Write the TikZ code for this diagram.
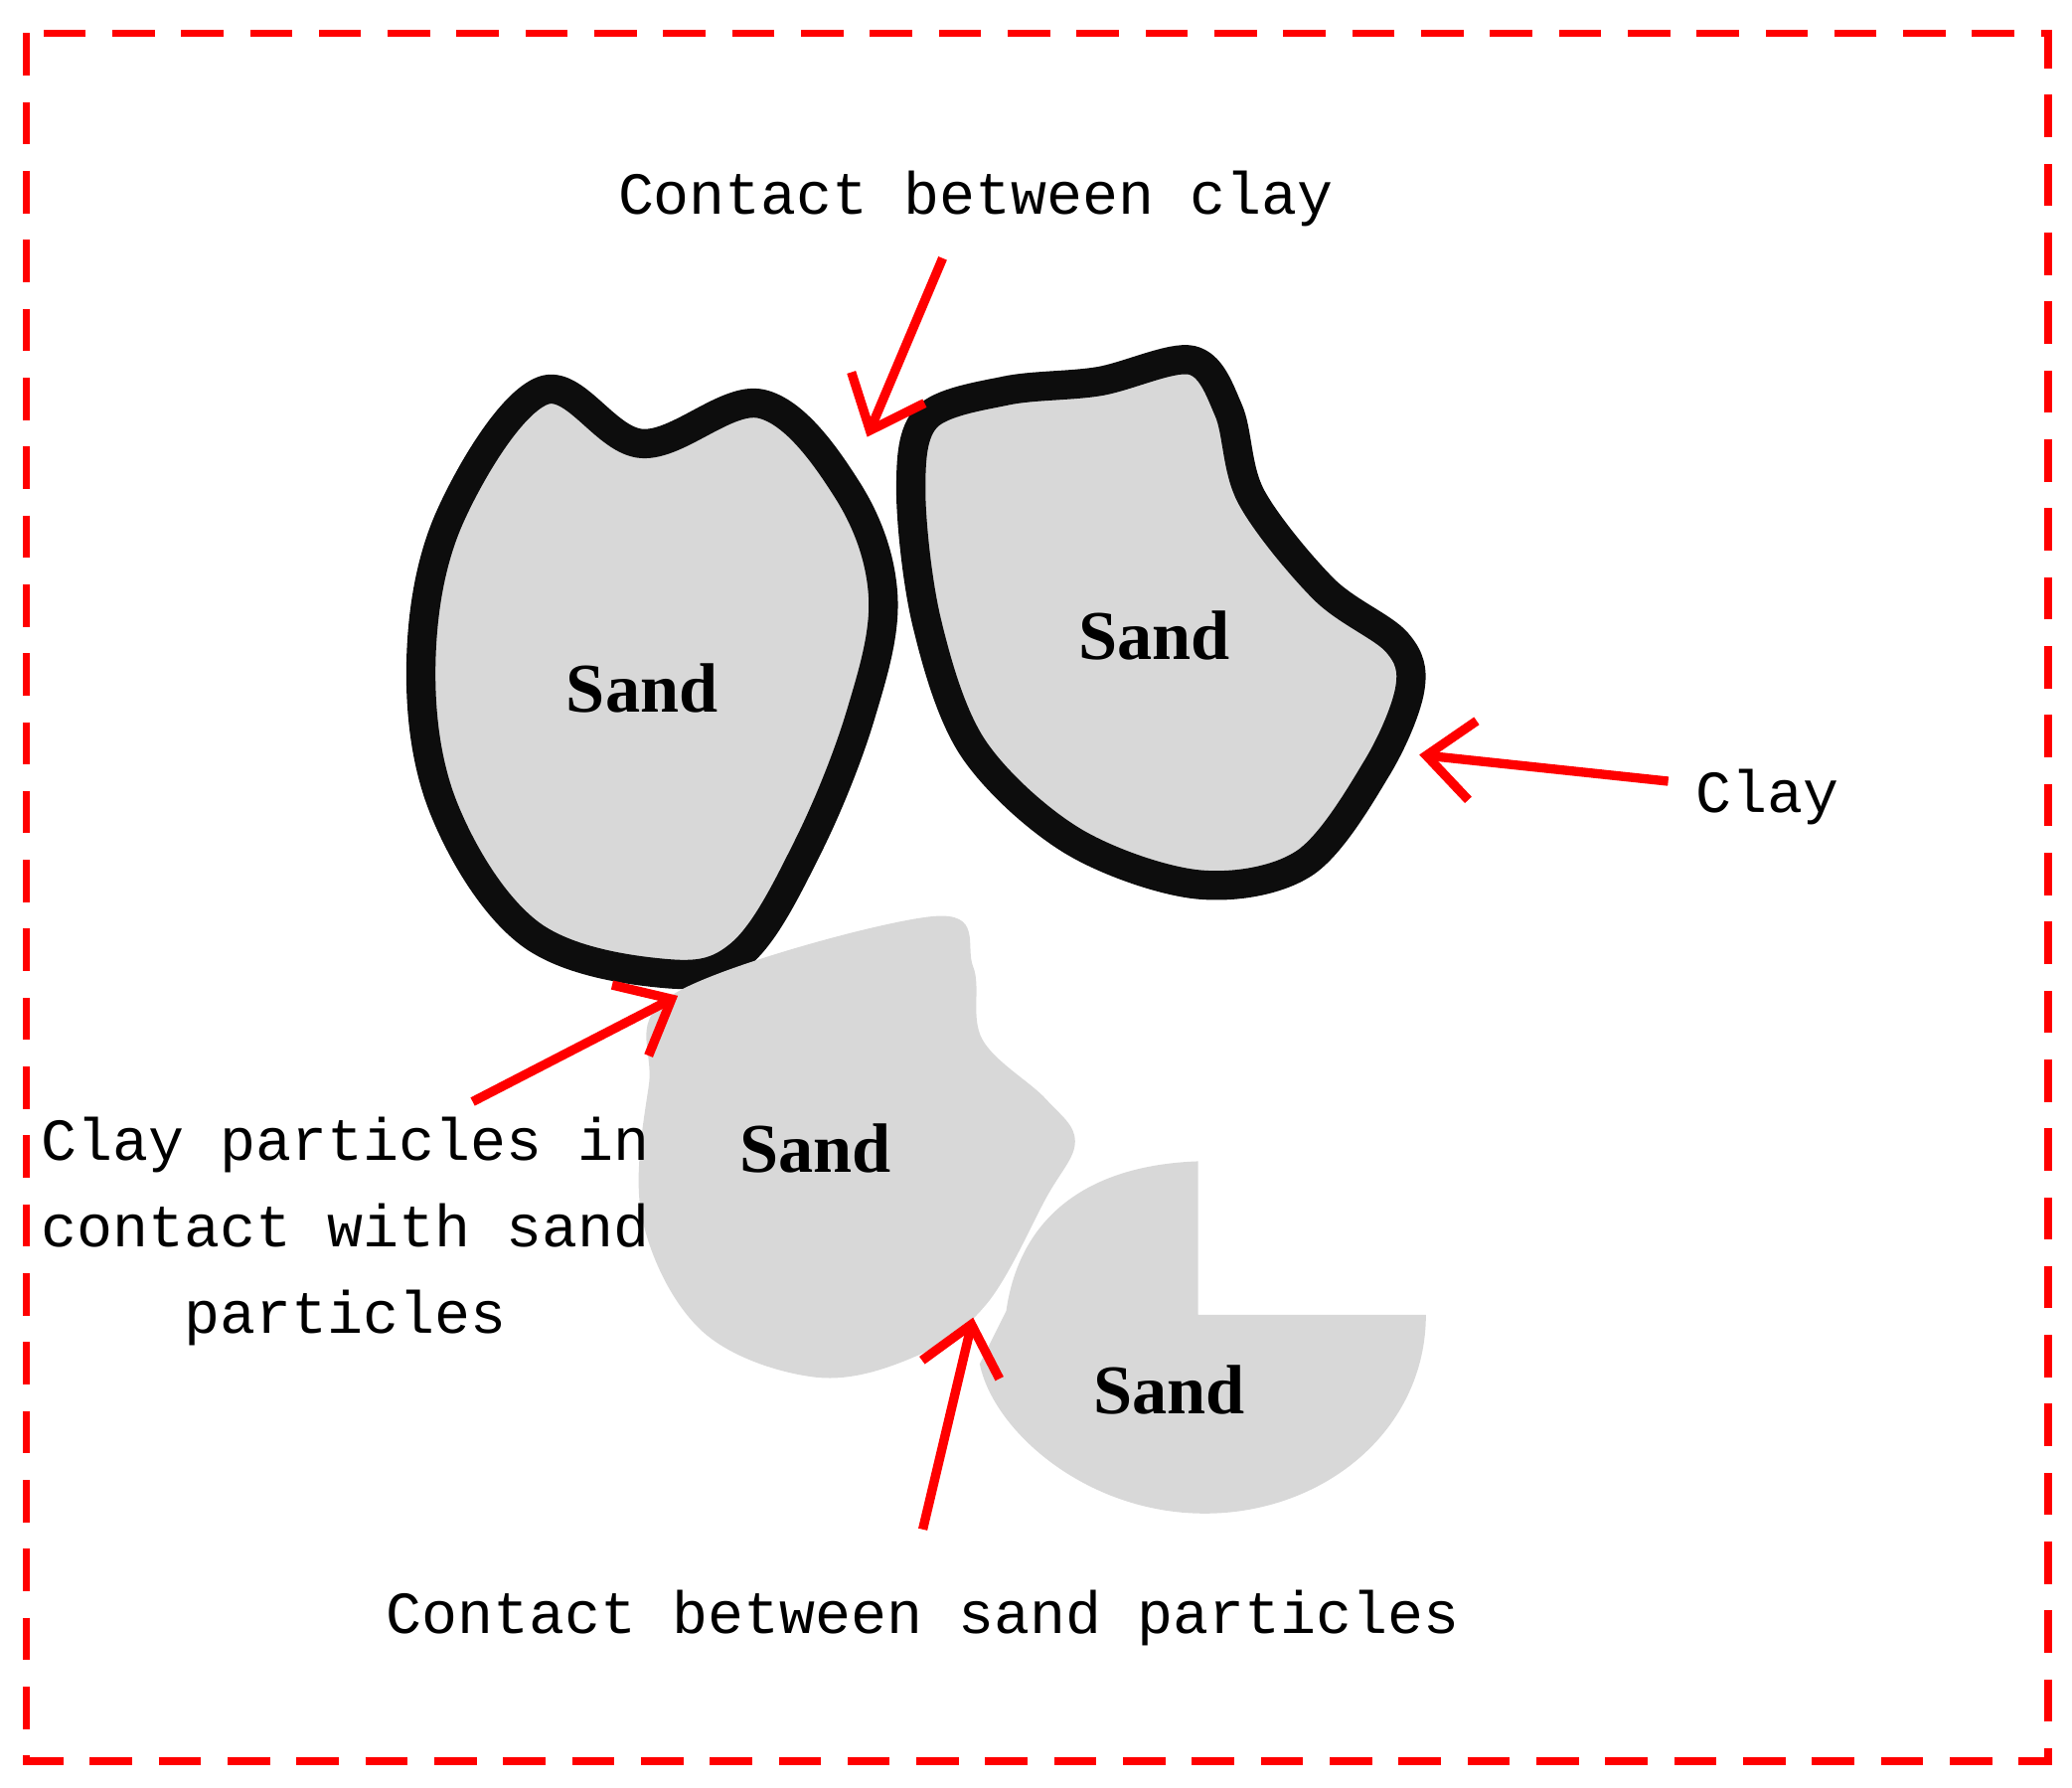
\documentclass[tikz,border=0pt]{standalone}
\usepackage{fontspec}
\setmainfont{Liberation Serif}
\newfontfamily\monof{Liberation Mono}
\usetikzlibrary{arrows.meta}
\definecolor{sandgray}{RGB}{216,216,216}
\begin{document}
\begin{tikzpicture}[x=0.01cm,y=-0.01cm,
  grain/.style={fill=sandgray,draw=black!95,line width=0.22cm,line join=round},
  bare/.style={fill=sandgray},
  redarrow/.style={draw=red,line width=0.07cm,-{Straight Barb[length=0.35cm,width=0.6cm,line width=0.07cm]}},
  lbl/.style={font=\monof\fontsize{12.8}{18.5}\selectfont,inner sep=0pt},
  sandlbl/.style={font=\bfseries\fontsize{15}{18}\selectfont,inner sep=0pt}]
\useasboundingbox (0,0) rectangle (1565,1350);
\draw[red,line width=0.055cm,dash pattern=on 0.32cm off 0.2cm] (20,25) rectangle (1547,1330);
% left grain
\draw[grain] plot[smooth cycle,tension=0.6] coordinates {(410,295)(485,335)(575,305)(640,370)(667,450)(650,540)(610,640)(560,720)(500,735)(400,705)(335,610)(318,500)(340,390)};
% right grain
\draw[grain] plot[smooth cycle,tension=0.55] coordinates {(700,315)(760,295)(830,288)(900,272)(928,310)(945,375)(1000,445)(1055,485)(1065,520)(1040,580)(985,652)(905,668)(810,635)(735,565)(700,470)(688,370)};
% lower sands
\path[bare] plot[smooth cycle,tension=0.6] coordinates {(510,750)(705,692)(735,730)(742,785)(790,830)(812,862)(790,905)(745,985)(690,1025)(615,1040)(530,1005)(485,920)(490,820)};
\path[bare] (760,990) .. controls (770,920) and (820,880) .. (905,877) -- (905,993) -- (1077,993) .. controls (1077,1080) and (1000,1143) .. (910,1143) .. controls (820,1143) and (750,1080) .. (740,1030) -- cycle;
% labels
\node[sandlbl] (s1) at (485,520) {Sand};
\node[sandlbl] (s2) at (872,480) {Sand};
\node[sandlbl] (s3) at (616,867) {Sand};
\node[sandlbl] (s4) at (883,1050) {Sand};
\node[lbl] (t1) at (737,150) {Contact between clay};
\node[lbl,anchor=west] (t2) at (1280,602) {Clay};
\node[lbl,align=center] (t3) at (261,930) {Clay particles in\\contact with sand\\particles};
\node[lbl] (t4) at (697,1222) {Contact between sand particles};
\coordinate (a1s) at (712,195); \coordinate (a1e) at (655,330);
\coordinate (a2s) at (1260,590); \coordinate (a2e) at (1072,570);
\coordinate (a3s) at (357,832); \coordinate (a3e) at (512,752);
\coordinate (a4s) at (697,1155); \coordinate (a4e) at (735,995);
\draw[redarrow] (a1s) -- (a1e);
\draw[redarrow] (a2s) -- (a2e);
\draw[redarrow] (a3s) -- (a3e);
\draw[redarrow] (a4s) -- (a4e);
\end{tikzpicture}
\end{document}
